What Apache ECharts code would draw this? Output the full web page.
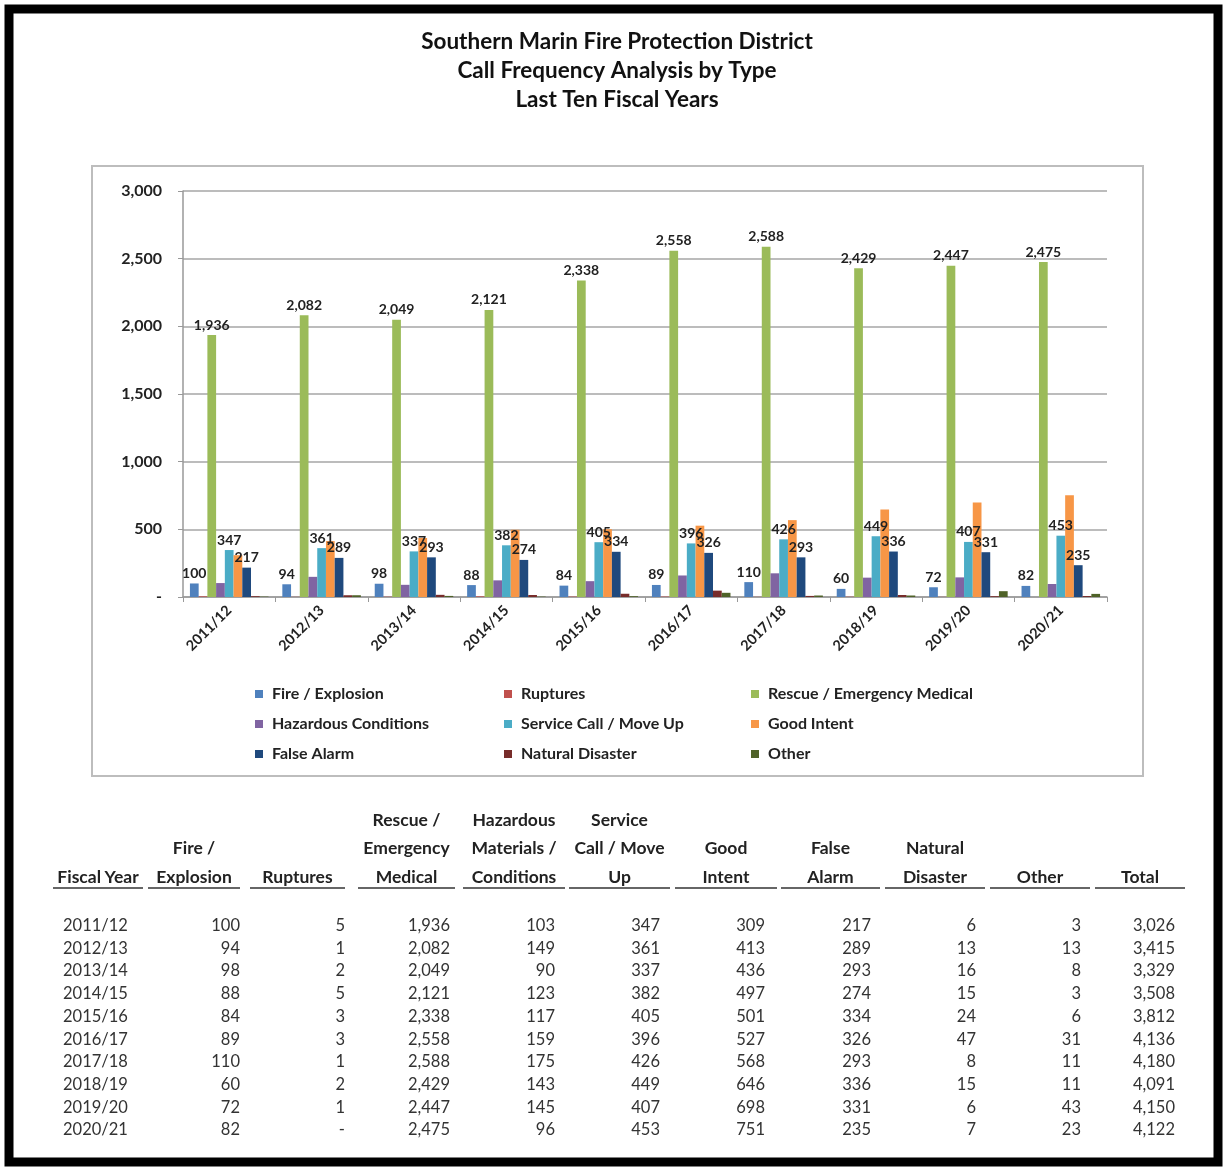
<!DOCTYPE html>
<html>
<head>
<meta charset="utf-8">
<script src="https://cdn.jsdelivr.net/npm/echarts@6/dist/echarts.min.js"></script>
<style>
  html, body { margin: 0; padding: 0; background: #fff; }
  #chart { position: absolute; left: 0; top: 0; width: 1225px; height: 1168px; }
  #table { position: absolute; left: 0; top: 0; width: 1225px; height: 1168px; font-family: Lato, "Open Sans", sans-serif; color: #333; pointer-events: none; }
  .hd { position: absolute; text-align: center; font-weight: bold; font-size: 17.5px; line-height: 28.5px; color: #222; white-space: nowrap; }
  .ul { position: absolute; height: 2px; background: #666; }
  .cell { position: absolute; font-size: 16.5px; line-height: 22px; height: 22px; white-space: nowrap; color: #333; }
</style>
</head>
<body>
<div id="chart"></div>
<div id="table"></div>
<script>
// ---------------- DATA ----------------
const years = ['2011/12','2012/13','2013/14','2014/15','2015/16','2016/17','2017/18','2018/19','2019/20','2020/21'];
const fireExplosion = [100, 94, 98, 88, 84, 89, 110, 60, 72, 82];
const ruptures = [5, 1, 2, 5, 3, 3, 1, 2, 1, 0];
const rescueEmergency = [1936, 2082, 2049, 2121, 2338, 2558, 2588, 2429, 2447, 2475];
const hazardous = [103, 149, 90, 123, 117, 159, 175, 143, 145, 96];
const serviceCall = [347, 361, 337, 382, 405, 396, 426, 449, 407, 453];
const goodIntent = [309, 413, 436, 497, 501, 527, 568, 646, 698, 751];
const falseAlarm = [217, 289, 293, 274, 334, 326, 293, 336, 331, 235];
const naturalDisaster = [6, 13, 16, 15, 24, 47, 8, 15, 6, 7];
const other = [3, 13, 8, 3, 6, 31, 11, 11, 43, 23];
const totals = [3026, 3415, 3329, 3508, 3812, 4136, 4180, 4091, 4150, 4122];
const yTicks = [0, 500, 1000, 1500, 2000, 2500, 3000];

const titleLines = ['Southern Marin Fire Protection District', 'Call Frequency Analysis by Type', 'Last Ten Fiscal Years'];
const seriesNames = ['Fire / Explosion','Ruptures','Rescue / Emergency Medical','Hazardous Conditions','Service Call / Move Up','Good Intent','False Alarm','Natural Disaster','Other'];
const seriesValues = [fireExplosion, ruptures, rescueEmergency, hazardous, serviceCall, goodIntent, falseAlarm, naturalDisaster, other];
const labelled = [true, false, true, false, true, false, true, false, false];
const colors = ['#4F81BD','#C0504D','#9BBB59','#8064A2','#4BACC6','#F79646','#1F497D','#772C2A','#4F6228'];

const tableHeaders = [['Fiscal Year'],['Fire /','Explosion'],['Ruptures'],['Rescue /','Emergency','Medical'],['Hazardous','Materials /','Conditions'],['Service','Call / Move','Up'],['Good','Intent'],['False','Alarm'],['Natural','Disaster'],['Other'],['Total']];
const tableColumns = [years, fireExplosion, ruptures, rescueEmergency, hazardous, serviceCall, goodIntent, falseAlarm, naturalDisaster, other, totals];

// ---------------- HELPERS ----------------
const fmt = v => (v === 0 ? '-' : Number(v).toLocaleString('en-US'));
const FONT = 'Lato, "Open Sans", sans-serif';

// ---------------- CHART ----------------
const chart = echarts.init(document.getElementById('chart'), null, { renderer: 'canvas' });

const legendCommon = {
  orient: 'vertical', itemWidth: 8, itemHeight: 8, icon: 'rect', itemGap: 12,
  textStyle: { fontFamily: FONT, fontWeight: 700, fontSize: 16, lineHeight: 18, color: '#222', padding: [0, 0, 0, 4] }
};

const option = {
  animation: false,
  color: colors,
  graphic: [
    { type: 'rect', shape: { x: 9, y: 9, width: 1209, height: 1153 }, style: { fill: null, stroke: '#000', lineWidth: 9 }, silent: true },
    { type: 'rect', shape: { x: 92, y: 166, width: 1051, height: 610 }, style: { fill: null, stroke: '#bdbdbd', lineWidth: 2 }, silent: true },
    { type: 'text', x: 617, y: 71, silent: true,
      style: { text: titleLines.join('\n'), textAlign: 'center', textVerticalAlign: 'middle',
               font: 'bold 22.5px ' + FONT, lineHeight: 29, fill: '#111' } }
  ],
  legend: [
    Object.assign({ left: 250, top: 680, data: [seriesNames[0], seriesNames[3], seriesNames[6]] }, legendCommon),
    Object.assign({ left: 499, top: 680, data: [seriesNames[1], seriesNames[4], seriesNames[7]] }, legendCommon),
    Object.assign({ left: 746, top: 680, data: [seriesNames[2], seriesNames[5], seriesNames[8]] }, legendCommon)
  ],
  grid: { left: 183, right: 118, top: 191, bottom: 571 },
  xAxis: {
    type: 'category', data: years,
    axisLine: { lineStyle: { color: '#999', width: 1.5 } },
    axisTick: { show: true, length: 5, lineStyle: { color: '#999' } },
    axisLabel: { rotate: 45, margin: 11, fontFamily: FONT, fontWeight: 'bold', fontSize: 14.5, color: '#222' }
  },
  yAxis: {
    type: 'value', min: yTicks[0], max: yTicks[yTicks.length - 1], interval: yTicks[1] - yTicks[0],
    axisLine: { show: true, lineStyle: { color: '#999', width: 1.5 } },
    axisTick: { show: true, length: 5, lineStyle: { color: '#999' } },
    splitLine: { lineStyle: { color: '#a6a6a6', width: 1.5 } },
    axisLabel: { margin: 21, formatter: fmt, fontFamily: FONT, fontWeight: 'bold', fontSize: 16, color: '#222', padding: [6, 0, 0, 0] }
  },
  series: seriesNames.map((name, i) => ({
    name: name, type: 'bar', data: seriesValues[i],
    barGap: '0%', barCategoryGap: '15%',
    label: {
      show: labelled[i], position: 'top', distance: 3, formatter: p => fmt(p.value),
      fontFamily: FONT, fontWeight: 'bold', fontSize: 14, color: '#222'
    }
  }))
};
chart.setOption(option);

// ---------------- TABLE (HTML text built from the arrays) ----------------
const colSpans = [[53,143],[148,240],[250,345],[358,455],[463,565],[569,670],[675,777],[781,880],[885,985],[990,1090],[1095,1185]];
const dataRightPad = [0,0,0,5,10,10,12,9,9,9,10];
const lastHeaderCenter = 877, headerStep = 28.5, underlineTop = 887, rowTop0 = 914, rowStep = 22.7;
const tbl = document.getElementById('table');
tableHeaders.forEach((lines, c) => {
  const [l, r] = colSpans[c];
  const d = document.createElement('div');
  d.className = 'hd';
  d.style.left = (l - 10) + 'px';
  d.style.width = (r - l + 20) + 'px';
  d.style.top = (lastHeaderCenter - headerStep / 2 - (lines.length - 1) * headerStep) + 'px';
  d.innerHTML = lines.join('<br>');
  tbl.appendChild(d);
  const u = document.createElement('div');
  u.className = 'ul';
  u.style.left = l + 'px';
  u.style.width = (r - l) + 'px';
  u.style.top = underlineTop + 'px';
  tbl.appendChild(u);
});
tableColumns.forEach((col, c) => {
  const [l, r] = colSpans[c];
  col.forEach((v, rI) => {
    const d = document.createElement('div');
    d.className = 'cell';
    d.style.top = (rowTop0 + rI * rowStep) + 'px';
    if (c === 0) {
      d.style.left = (l + 10) + 'px';
      d.textContent = v;
    } else {
      d.style.right = (1225 - r + dataRightPad[c]) + 'px';
      d.style.textAlign = 'right';
      d.textContent = fmt(v);
    }
    tbl.appendChild(d);
  });
});
</script>
</body>
</html>
